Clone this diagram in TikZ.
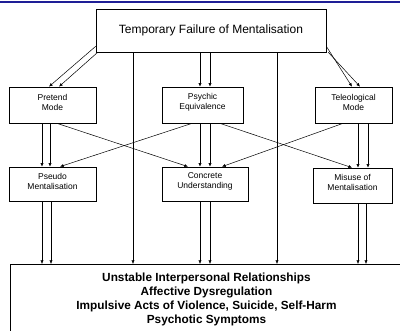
\documentclass[tikz,border=0pt]{standalone}
\usepackage{fontspec}
\setmainfont{Liberation Sans}
\usetikzlibrary{arrows.meta,calc}
\definecolor{topblue}{RGB}{30,30,150}
\begin{document}
\begin{tikzpicture}[x=1pt,y=-1pt,
  box/.style={draw, line width=0.7pt, inner sep=0pt},
  lbl/.style={font=\fontsize{8.5}{10}\selectfont, align=center, yshift=3pt},
  blbl/.style={font=\fontsize{11.8}{14}\selectfont\bfseries, align=center, yshift=5pt},
  arr/.style={line width=0.5pt, -{Latex[length=3.6pt,width=3.2pt]}}]
\clip (0,0) rectangle (400,331);
\fill[white] (0,0) rectangle (400,331);
\fill[topblue] (0,0.7) rectangle (400,2.6);

\node[box, minimum width=230pt, minimum height=43pt, font=\fontsize{12}{14}\selectfont] (top) at (211,30.5) {Temporary Failure of Mentalisation};

\node[box, minimum width=87pt, minimum height=36pt, label={[lbl]center:{Pretend\\Mode}}] (pretend) at (52.5,105) {};
\node[box, minimum width=81pt, minimum height=36pt, label={[lbl]center:{Psychic\\Equivalence}}] (psychic) at (202.5,105) {};
\node[box, minimum width=77pt, minimum height=36pt, label={[lbl]center:{Teleological\\Mode}}] (teleo) at (353.5,105) {};

\node[box, minimum width=87pt, minimum height=34pt, label={[lbl]center:{Pseudo\\Mentalisation}}] (pseudo) at (52.5,184) {};
\node[box, minimum width=86pt, minimum height=34pt, label={[lbl]center:{Concrete\\Understanding}}] (concrete) at (205,184) {};
\node[box, minimum width=79pt, minimum height=35pt, label={[lbl]center:{Misuse of\\Mentalisation}}] (misuse) at (352.5,185.5) {};

\node[box, minimum width=393pt, minimum height=81pt, anchor=north,
  label={[blbl]center:{Unstable Interpersonal Relationships\\Affective Dysregulation\\Impulsive Acts of Violence, Suicide, Self-Harm\\Psychotic Symptoms}}] (bottom) at (206.5,264) {};

% top -> first row
\draw[arr] ($(top.south west)+(0,-6)$) -- ($(pretend.north)+(-3.5,0)$);
\draw[arr] ($(top.south west)+(2,0)$) -- ($(pretend.north)+(6.5,0)$);
\coordinate (pe1) at ($(psychic.north)+(-2.5,0)$);
\coordinate (pe2) at ($(psychic.north)+(7.5,0)$);
\draw[arr] (top.south -| pe1) -- (pe1);
\draw[arr] (top.south -| pe2) -- (pe2);
\draw[arr] ($(top.south east)+(0,-6)$) -- ($(teleo.north)+(-1.5,0)$);
\draw[arr] ($(top.south east)+(2,0)$) -- ($(teleo.north)+(6.5,0)$);

% long verticals
\coordinate (v1) at (133,0);
\coordinate (v2) at (277,0);
\draw[arr] (top.south -| v1) -- (bottom.north -| v1);
\draw[arr] (top.south -| v2) -- (bottom.north -| v2);

% first row -> second row
\coordinate (ps1) at ($(pseudo.north)+(-10.5,0)$);
\coordinate (ps2) at ($(pseudo.north)+(-2.5,0)$);
\draw[arr] (pretend.south -| ps1) -- (ps1);
\draw[arr] (pretend.south -| ps2) -- (ps2);
\draw[arr] ($(pretend.south)+(4.5,0)$) -- ($(concrete.north)+(-17,0)$);
\draw[arr] ($(psychic.south)+(-10.5,0)$) -- ($(pseudo.north)+(7.5,0)$);
\coordinate (co1) at ($(concrete.north)+(-5,0)$);
\coordinate (co2) at ($(concrete.north)+(5,0)$);
\draw[arr] (psychic.south -| co1) -- (co1);
\draw[arr] (psychic.south -| co2) -- (co2);
\draw[arr] ($(psychic.south)+(17.5,0)$) -- ($(misuse.north)+(-0.5,0)$);
\draw[arr] ($(teleo.south)+(-10.5,0)$) -- ($(concrete.north)+(17,0)$);
\coordinate (mi1) at ($(misuse.north)+(5.5,0)$);
\coordinate (mi2) at ($(misuse.north)+(15.5,0)$);
\draw[arr] (teleo.south -| mi1) -- (mi1);
\draw[arr] (teleo.south -| mi2) -- (mi2);

% second row -> bottom
\coordinate (b1) at (42,0);
\coordinate (b2) at (51,0);
\coordinate (b3) at (200,0);
\coordinate (b4) at (210,0);
\coordinate (b5) at (358,0);
\coordinate (b6) at (366,0);
\draw[arr] (pseudo.south -| b1) -- (bottom.north -| b1);
\draw[arr] (pseudo.south -| b2) -- (bottom.north -| b2);
\draw[arr] (concrete.south -| b3) -- (bottom.north -| b3);
\draw[arr] (concrete.south -| b4) -- (bottom.north -| b4);
\draw[arr] (misuse.south -| b5) -- (bottom.north -| b5);
\draw[arr] (misuse.south -| b6) -- (bottom.north -| b6);
\end{tikzpicture}
\end{document}
